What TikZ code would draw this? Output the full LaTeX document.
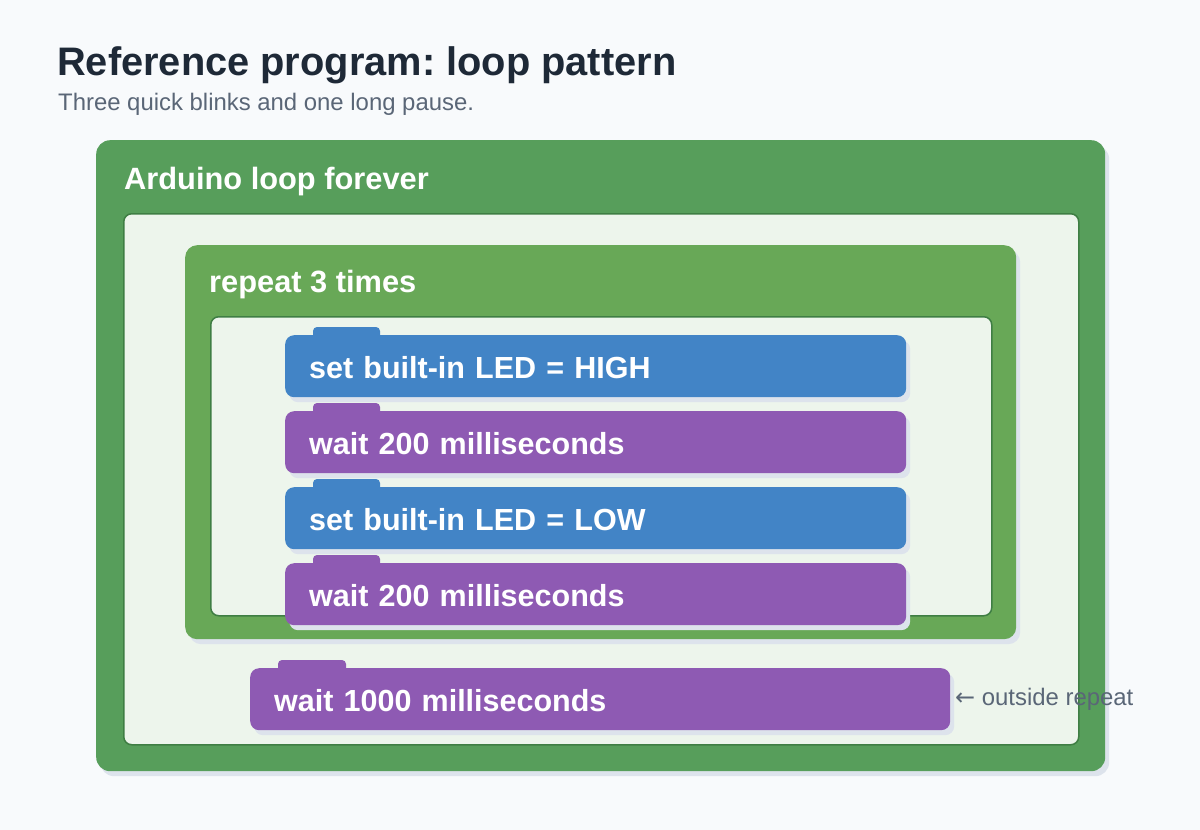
\documentclass[tikz,border=0pt]{standalone}
\usepackage{fontspec}
\setmainfont{Liberation Sans}
\newfontfamily\arrowfont{DejaVu Sans}
\usetikzlibrary{shadows}
\frenchspacing
\definecolor{bgc}{HTML}{F8FAFC}
\definecolor{titlec}{HTML}{1E2937}
\definecolor{subc}{HTML}{5A6677}
\definecolor{loopg}{HTML}{579E5B}
\definecolor{repg}{HTML}{68A857}
\definecolor{slotc}{HTML}{EDF5EC}
\definecolor{slotb}{HTML}{3F7E44}
\definecolor{ledc}{HTML}{4284C6}
\definecolor{waitc}{HTML}{8E5AB3}
\definecolor{shadc}{HTML}{DDE3EC}
\begin{document}
\begin{tikzpicture}[x=1pt,y=-1pt,
  shad/.style={copy shadow={shadow xshift=4pt, shadow yshift=-5pt, fill=shadc, draw=none}},
  container/.style={shad, anchor=north west, rounded corners=#1, inner sep=0pt},
  slot/.style={anchor=north west, fill=slotc, draw=slotb, line width=1.5pt, rounded corners=8pt, inner sep=0pt},
  block/.style={shad, anchor=north west, rounded corners=9pt, inner xsep=24pt, inner ysep=0pt,
    text height=43pt, text depth=19pt, align=left, text=white,
    font=\bfseries\fontsize{30.5}{36}\selectfont},
  hdr/.style={anchor=base west, text=white, inner sep=0pt, font=\bfseries\fontsize{30.8}{36}\selectfont},
  tab/.style={rounded corners=4pt}
]
\fill[bgc] (0,0) rectangle (1200,830);
\useasboundingbox (0,0) rectangle (1200,830);

\node[anchor=base west, inner sep=0pt, text=titlec, font=\bfseries\fontsize{39.8}{44}\selectfont] (title) at (57,75) {Reference program: loop pattern};
\node[anchor=base west, inner sep=0pt, text=subc, font=\fontsize{23.9}{28}\selectfont] (subtitle) at (58,110) {Three quick blinks and one long pause.};

% outer loop
\node[container=14pt, fill=loopg, minimum width=1009pt, minimum height=631pt] (loop) at (96,140) {};
\node[hdr] (looplabel) at (124,189) {Arduino loop forever};
\node[slot, minimum width=955pt, minimum height=531pt] (loopslot) at (123,213) {};

% repeat
\node[container=12pt, fill=repg, minimum width=831pt, minimum height=394pt] (rep) at (185,245) {};
\node[hdr] (replabel) at (209,292) {repeat 3 times};
\node[slot, minimum width=781pt, minimum height=299pt] (repslot) at (210,316) {};

% blocks
\node[block, fill=ledc, text width=573pt] (b1) at (285,335) {set built-in LED = HIGH};
\fill[ledc, tab] (313,327) rectangle (380,342);
\node[block, fill=waitc, text width=573pt] (b2) at (285,411) {wait 200 milliseconds};
\fill[waitc, tab] (313,403) rectangle (380,418);
\node[block, fill=ledc, text width=573pt] (b3) at (285,487) {set built-in LED = LOW};
\fill[ledc, tab] (313,479) rectangle (380,494);
\node[block, fill=waitc, text width=573pt] (b4) at (285,563) {wait 200 milliseconds};
\fill[waitc, tab] (313,555) rectangle (380,570);

\node[block, fill=waitc, text width=652pt] (b5) at (250,668) {wait 1000 milliseconds};
\fill[waitc, tab] (278,660) rectangle (346,675);

\node[anchor=base west, inner sep=0pt, text=subc, font=\fontsize{23.9}{28}\selectfont] (note) at (955,705) {{\arrowfont ←} outside repeat};
\end{tikzpicture}
\end{document}
